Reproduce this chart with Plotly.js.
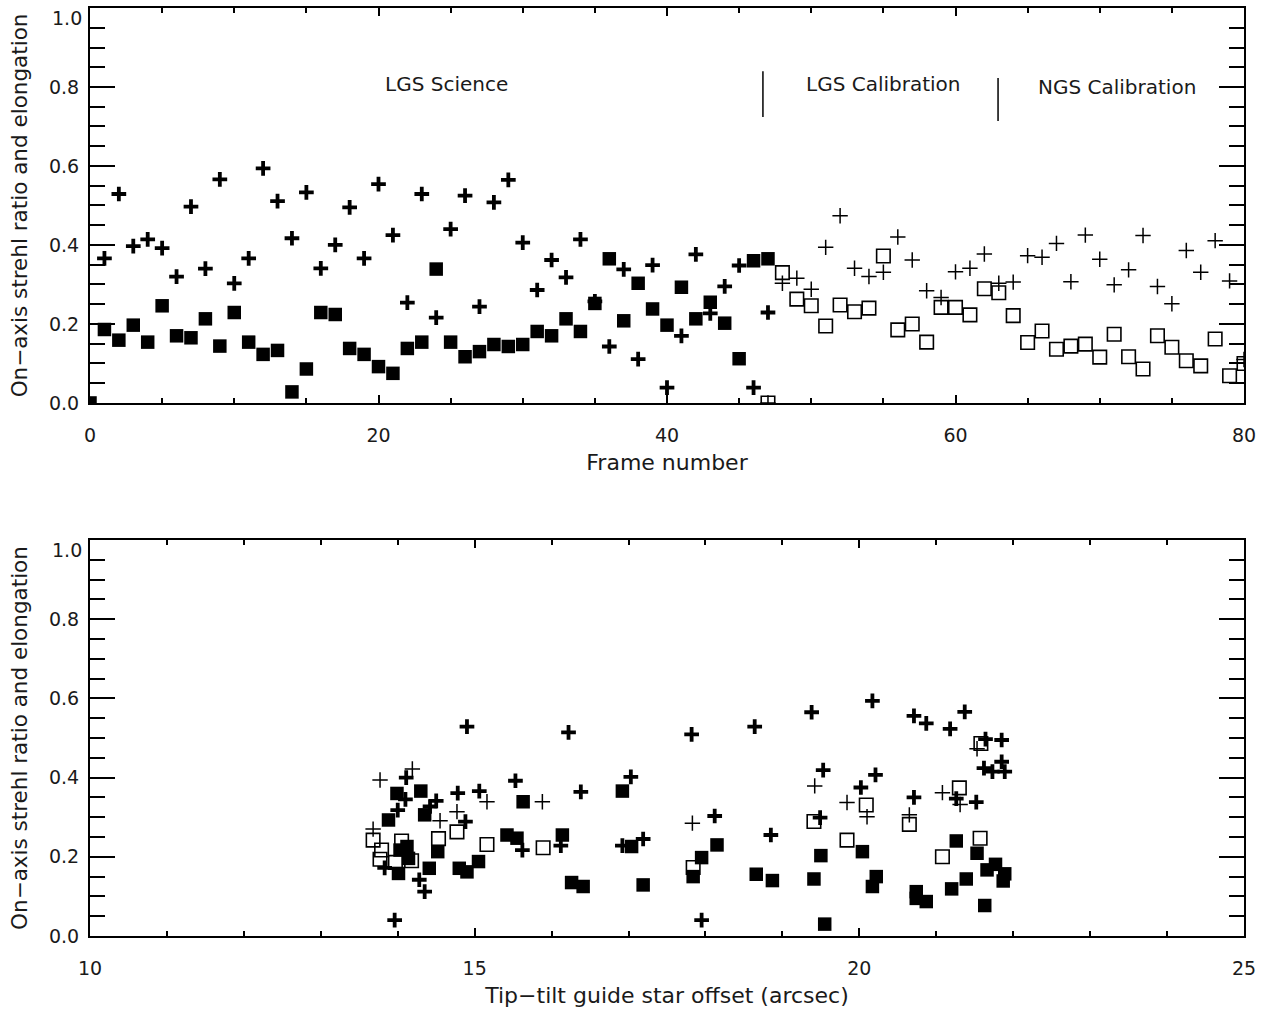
<!DOCTYPE html>
<html>
<head>
<meta charset="utf-8">
<script src="https://cdn.plot.ly/plotly-3.0.1.min.js"></script>
<style>html,body{margin:0;padding:0;background:#fff;}#chart{width:1272px;height:1013px;}</style>
</head>
<body>
<div id="chart"></div>
<script>
// ---- Top panel: values versus frame number ----
const lgsStrehlFrames = [0,1,2,3,4,5,6,7,8,9,10,11,12,13,14,15,16,17,18,19,20,21,22,23,24,25,26,27,28,29,30,31,32,33,34,35,36,37,38,39,40,41,42,43,44,45,46,47];
const lgsStrehl = [0.0,0.186,0.159,0.197,0.154,0.246,0.170,0.165,0.213,0.144,0.229,0.154,0.123,0.133,0.028,0.086,0.229,0.224,0.138,0.123,0.092,0.075,0.138,0.154,0.339,0.154,0.117,0.130,0.148,0.143,0.148,0.181,0.170,0.213,0.181,0.252,0.365,0.208,0.303,0.238,0.197,0.293,0.213,0.255,0.202,0.112,0.360,0.365];

const lgsElongFrames = [1,2,3,4,5,6,7,8,9,10,11,12,13,14,15,16,17,18,19,20,21,22,23,24,25,26,27,28,29,30,31,32,33,34,35,36,37,38,39,40,41,42,43,44,45,46,47];
const lgsElong = [0.366,0.529,0.397,0.414,0.392,0.320,0.497,0.340,0.566,0.303,0.366,0.594,0.511,0.417,0.533,0.341,0.400,0.495,0.366,0.554,0.425,0.254,0.529,0.216,0.440,0.525,0.244,0.508,0.565,0.406,0.286,0.362,0.318,0.414,0.257,0.143,0.338,0.111,0.349,0.039,0.170,0.376,0.227,0.295,0.348,0.039,0.229];

const calFrames = [47,48,49,50,51,52,53,54,55,56,57,58,59,60,61,62,63,64,65,66,67,68,69,70,71,72,73,74,75,76,77,78,79,80];
const calStrehl = [0.0,0.330,0.263,0.246,0.195,0.248,0.231,0.240,0.372,0.185,0.200,0.154,0.242,0.242,0.223,0.289,0.279,0.221,0.153,0.182,0.136,0.144,0.149,0.116,0.174,0.117,0.086,0.170,0.141,0.107,0.094,0.162,0.069,0.100];
const calElong = [0.0,0.303,0.316,0.288,0.394,0.474,0.341,0.320,0.331,0.420,0.362,0.284,0.267,0.332,0.341,0.377,0.303,0.306,0.373,0.369,0.404,0.307,0.425,0.364,0.299,0.337,0.424,0.295,0.251,0.386,0.331,0.411,0.309,0.110];

// section labels
const sectionLabels = ["LGS Science", "LGS Calibration", "NGS Calibration"];
const sectionLabelX = [24.7, 55.0, 71.2];
const sectionLabelY = [0.808, 0.808, 0.800];
const dividerX = [46.65, 62.95];
const dividerY0 = [0.724, 0.714];
const dividerY1 = [0.840, 0.823];

// ---- Bottom panel: values versus tip-tilt guide star offset ----
const offStrehlX = [14.30,13.99,15.63,16.92,14.35,13.88,14.52,14.03,14.12,14.14,14.01,14.41,14.80,14.90,15.05,15.42,15.55,16.14,16.26,16.41,17.19,17.04,17.84,17.95,18.15,18.66,18.87,19.41,19.50,19.55,20.04,20.22,20.17,20.74,20.74,20.87,21.20,21.26,21.39,21.53,21.66,21.63,21.77,21.89,21.87];
const offStrehlY = [0.366,0.360,0.339,0.366,0.306,0.293,0.213,0.217,0.226,0.196,0.158,0.171,0.171,0.162,0.188,0.255,0.247,0.255,0.135,0.125,0.129,0.226,0.150,0.198,0.230,0.156,0.140,0.144,0.203,0.030,0.213,0.150,0.125,0.112,0.095,0.087,0.119,0.240,0.144,0.209,0.167,0.077,0.181,0.157,0.139];

const offElongX = [14.90,16.22,15.53,16.38,17.03,14.11,14.78,15.06,14.50,14.42,14.10,14.00,14.88,15.62,16.12,16.92,17.19,13.83,14.28,14.35,13.96,17.82,18.64,19.38,20.17,20.71,20.87,21.18,21.37,21.64,21.85,21.85,21.89,21.62,21.73,19.53,20.21,20.02,20.71,21.26,21.52,18.12,18.85,19.49,17.95];
const offElongY = [0.529,0.514,0.392,0.364,0.402,0.400,0.361,0.366,0.341,0.327,0.345,0.318,0.289,0.217,0.228,0.228,0.245,0.172,0.142,0.112,0.040,0.509,0.529,0.565,0.594,0.556,0.537,0.523,0.566,0.497,0.495,0.440,0.415,0.424,0.415,0.419,0.407,0.375,0.350,0.347,0.338,0.303,0.255,0.299,0.040];

const offCalStrehlX = [13.68,13.79,13.77,14.05,14.18,13.97,14.53,14.77,15.16,15.89,17.84,19.41,20.09,19.84,20.65,21.30,21.08,21.57,21.58];
const offCalStrehlY = [0.242,0.217,0.194,0.240,0.190,0.186,0.246,0.263,0.231,0.223,0.173,0.289,0.331,0.242,0.282,0.374,0.200,0.247,0.486];

const offCalElongX = [13.77,14.19,15.16,15.88,14.77,14.55,13.68,17.83,19.42,19.84,20.10,20.65,21.08,21.31,21.53];
const offCalElongY = [0.394,0.422,0.339,0.339,0.314,0.291,0.270,0.285,0.379,0.337,0.301,0.306,0.362,0.332,0.473];

// y tick labels (the top one is drawn just below the frame, as in the reference)
const yTickVals = [0, 0.2, 0.4, 0.6, 0.8, 1.0];
const yTickText = ["0.0", "0.2", "0.4", "0.6", "0.8", ""];
const yTopLabel = "1.0";

const FONT = "DejaVu Sans";
const TXT = "#1a1a1a";
const filledSq = {symbol: "square", size: 13.5, color: "black"};
const openSq = {symbol: "square-open", size: 13.5, color: "black", line: {color: "black", width: 1.6}};
const boldPlus = {symbol: "cross-thin-open", size: 10.5, color: "black", line: {color: "black", width: 3.8}};
const thinPlus = {symbol: "cross-thin-open", size: 11, color: "black", line: {color: "black", width: 1.5}};

function tr(x, y, marker, xa, ya, name) {
  return {type: "scatter", mode: "markers", x: x, y: y, marker: marker, xaxis: xa, yaxis: ya, name: name, hoverinfo: "x+y"};
}

const data = [
  tr(lgsStrehlFrames, lgsStrehl, filledSq, "x", "y", "LGS strehl"),
  tr(lgsElongFrames, lgsElong, boldPlus, "x", "y", "LGS elongation"),
  tr(calFrames, calStrehl, openSq, "x", "y", "Calibration strehl"),
  tr(calFrames, calElong, thinPlus, "x", "y", "Calibration elongation"),
  tr(offStrehlX, offStrehlY, filledSq, "x2", "y2", "LGS strehl"),
  tr(offElongX, offElongY, boldPlus, "x2", "y2", "LGS elongation"),
  tr(offCalStrehlX, offCalStrehlY, openSq, "x2", "y2", "Calibration strehl"),
  tr(offCalElongX, offCalElongY, thinPlus, "x2", "y2", "Calibration elongation")
];

const yTitle = "On\u2212axis strehl ratio and elongation";

function yAxis(domain, anchor) {
  return {
    domain: domain, anchor: anchor, range: [0, 1], autorange: false,
    tickmode: "array", tickvals: yTickVals, ticktext: yTickText,
    ticks: "inside", ticklen: 25, tickwidth: 2, tickcolor: "black",
    minor: {tick0: 0, dtick: 0.05, ticks: "inside", ticklen: 15, tickwidth: 2, tickcolor: "black"},
    showline: true, linewidth: 2, linecolor: "black", mirror: "ticks",
    showgrid: false, zeroline: false,
    tickfont: {family: FONT, size: 19, color: TXT},
    ticklabelstandoff: 5,
    title: {text: yTitle, font: {family: FONT, size: 21.5, color: TXT}, standoff: 15},
    automargin: false
  };
}
function xAxis(range, dtick, minorDtick, anchor, title) {
  return {
    range: range, autorange: false, anchor: anchor, domain: [0, 1],
    dtick: dtick, tick0: range[0],
    ticks: "inside", ticklen: 8, tickwidth: 2, tickcolor: "black",
    minor: {dtick: minorDtick, ticks: "inside", ticklen: 5, tickwidth: 2, tickcolor: "black"},
    showline: true, linewidth: 2, linecolor: "black", mirror: "ticks",
    showgrid: false, zeroline: false,
    tickfont: {family: FONT, size: 19, color: TXT},
    ticklabelstandoff: 14,
    ticklabeloverflow: "allow",
    title: {text: title, font: {family: FONT, size: 22, color: TXT}, standoff: 10},
    automargin: false
  };
}

const annotations = sectionLabels.map((t, i) => ({
  text: t, x: sectionLabelX[i], y: sectionLabelY[i], xref: "x", yref: "y",
  showarrow: false, xanchor: "center", yanchor: "middle",
  font: {family: FONT, size: 20, color: TXT}
}));
["y", "y2"].forEach(ya => {
  annotations.push({
    text: yTopLabel, xref: "paper", x: 0, xanchor: "right", xshift: -6,
    yref: ya, y: 1, yanchor: "top", yshift: 3, showarrow: false,
    font: {family: FONT, size: 19, color: TXT}
  });
});
const shapes = dividerX.map((x, i) => ({
  type: "line", xref: "x", yref: "y", x0: x, x1: x, y0: dividerY0[i], y1: dividerY1[i],
  line: {color: "black", width: 1.5}
}));

const layout = {
  width: 1272, height: 1013,
  margin: {l: 90, r: 28, t: 8, b: 77},
  paper_bgcolor: "white", plot_bgcolor: "white",
  showlegend: false,
  xaxis: xAxis([0, 80], 20, 5, "y", "Frame number"),
  yaxis: yAxis([0.5744, 1], "x"),
  xaxis2: xAxis([10, 25], 5, 1, "y2", "Tip\u2212tilt guide star offset (arcsec)"),
  yaxis2: yAxis([0, 0.4267], "x2"),
  annotations: annotations,
  shapes: shapes
};

Plotly.newPlot("chart", data, layout, {displayModeBar: false, staticPlot: true});
</script>
</body>
</html>
